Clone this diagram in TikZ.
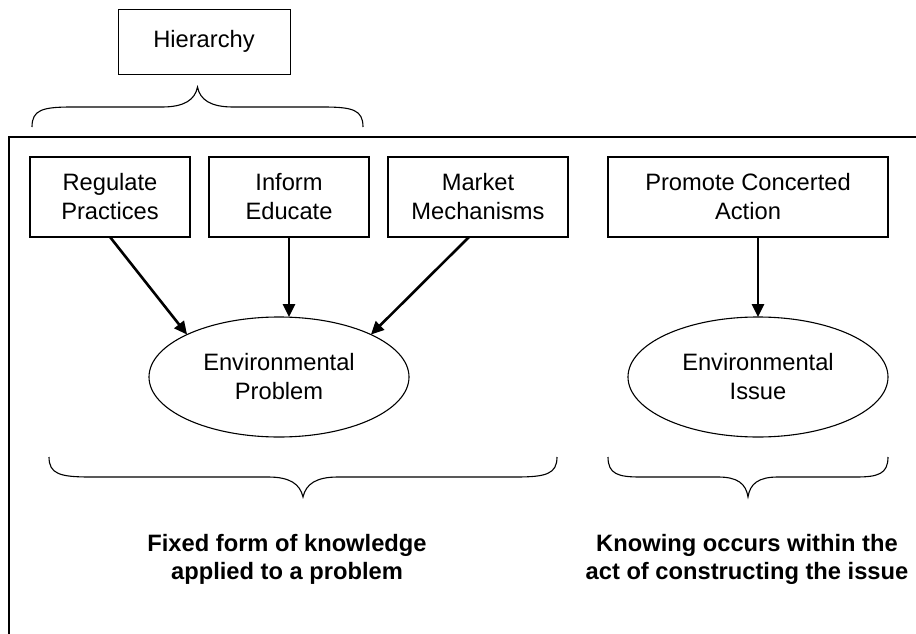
\documentclass[tikz,border=0pt]{standalone}
\usepackage{fontspec}
\setmainfont{Liberation Sans}
\usetikzlibrary{arrows.meta,shapes.geometric,calc}
\begin{document}
\begin{tikzpicture}[x=1pt,y=-1pt,
  every node/.style={font=\fontsize{23.7}{29}\selectfont, align=center, inner sep=0pt, outer sep=0pt},
  boxnode/.style={draw, line width=1.1pt, minimum height=80pt},
  ellnode/.style={draw, ellipse, line width=1.1pt, minimum width=260pt, minimum height=120pt},
  conn/.style={line width=2.6pt, -{Triangle[length=13pt,width=12pt]}},
  bracepath/.style={line width=1.1pt},
  boldlabel/.style={font=\fontsize{23.7}{28}\selectfont\bfseries}
]
\useasboundingbox (0,0) rectangle (916,634);
\fill[white] (0,0) rectangle (916,634);

% Hierarchy
\node[draw, line width=0.8pt, minimum width=172pt, minimum height=65pt] (hier) at (204,41.5) {Hierarchy};

% top brace
\draw[bracepath] (32,127) .. controls (32,110) and (42,107) .. (72,107) -- (162,107)
  .. controls (184,107) and (195,100) .. (197.5,87)
  .. controls (200,100) and (211,107) .. (233,107) -- (323,107)
  .. controls (353,107) and (363,110) .. (363,127);

% outer frame (only top and left edges visible)
\coordinate (frameTR) at (916,137);
\coordinate (frameTL) at (9,137);
\coordinate (frameBL) at (9,634);
\draw[line width=1.5pt] (frameTR) -- (frameTL) -- (frameBL);

% boxes
\node[boxnode, minimum width=160pt] (reg) at (110,197) {Regulate\\Practices};
\node[boxnode, minimum width=160pt] (inf) at (289,197) {Inform\\Educate};
\node[boxnode, minimum width=180pt] (mkt) at (478,197) {Market\\Mechanisms};
\node[boxnode, minimum width=280pt] (pro) at (748,197) {Promote Concerted\\Action};

% ellipses
\node[ellnode] (prob) at (279,377) {Environmental\\Problem};
\node[ellnode] (iss) at (758,377) {Environmental\\Issue};

% arrows
\draw[conn] (reg.south) -- (prob.north west);
\draw[conn] (inf.south) -- (inf.south |- prob.north);
\draw[conn] ([xshift=-9pt]mkt.south) -- (prob.north east);
\draw[conn] (iss.north |- pro.south) -- (iss.north);

% bottom braces
\draw[bracepath] (49,457) .. controls (49,474) and (60,477) .. (90,477) -- (268,477)
  .. controls (290,477) and (300,484) .. (303,497)
  .. controls (306,484) and (316,477) .. (338,477) -- (516,477)
  .. controls (546,477) and (557,474) .. (557,457);
\draw[bracepath] (608,457) .. controls (608,474) and (618,477) .. (640,477) -- (718,477)
  .. controls (738,477) and (746,484) .. (748,497)
  .. controls (750,484) and (758,477) .. (778,477) -- (856,477)
  .. controls (878,477) and (888,474) .. (888,457);

% labels
\node[boldlabel] (lblA) at (287,559) {Fixed form of knowledge\\applied to a problem};
\node[boldlabel] (lblB) at (747,559) {Knowing occurs within the\\act of constructing the issue};
\end{tikzpicture}
\end{document}
